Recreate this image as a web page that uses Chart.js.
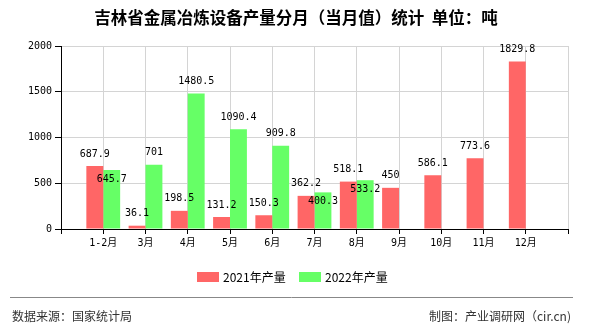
<!DOCTYPE html>
<html>
<head>
<meta charset="utf-8">
<script src="https://cdn.jsdelivr.net/npm/chart.js@4/dist/chart.umd.min.js"></script>
<style>
  html, body { margin: 0; padding: 0; background: #fff; }
  canvas { display: block; }
</style>
</head>
<body>
<canvas id="chart" width="590" height="330"></canvas>
<script>
const titleText = '吉林省金属冶炼设备产量分月（当月值）统计  单位：吨';
const months = ['1-2月', '3月', '4月', '5月', '6月', '7月', '8月', '9月', '10月', '11月', '12月'];
const output2021 = [687.9, 36.1, 198.5, 131.2, 150.3, 362.2, 518.1, 450, 586.1, 773.6, 1829.8];
const output2022 = [645.7, 701, 1480.5, 1090.4, 909.8, 400.3, 533.2, null, null, null, null];
const seriesNames = ['2021年产量', '2022年产量'];
const seriesColors = ['#ff6666', '#66ff66'];
const sourceText = '数据来源：国家统计局';
const creditText = '制图：产业调研网（cir.cn)';

const monoFont = '"DejaVu Sans Mono", "Noto Sans CJK SC", monospace';
const cjkFont = '"Noto Sans CJK SC", "Liberation Sans", sans-serif';

// blank slot on each side so the months sit on the grid lines
const axisLabels = ['', ...months, ''];
const pad = arr => [null, ...arr, null];

const ctx = document.getElementById('chart').getContext('2d');

// value labels above each bar; a 2022 label that would collide with the
// 2021 label of the same month is tucked just under the bar top instead
const valueLabels = {
    id: 'valueLabels',
    afterDatasetsDraw(chart) {
        const c = chart.ctx;
        c.save();
        c.font = '10px ' + monoFont;
        c.fillStyle = '#000';
        c.textAlign = 'center';
        c.textBaseline = 'middle';
        const redMeta = chart.getDatasetMeta(0);
        const greenMeta = chart.getDatasetMeta(1);
        const redData = chart.data.datasets[0].data;
        const greenData = chart.data.datasets[1].data;
        redMeta.data.forEach((bar, i) => {
            if (redData[i] == null) return;
            c.fillText(String(redData[i]), bar.x, bar.y - 12);
        });
        greenMeta.data.forEach((bar, i) => {
            if (greenData[i] == null) return;
            let y = bar.y - 12;
            if (redData[i] != null) {
                const redY = redMeta.data[i].y - 12;
                if (Math.abs(y - redY) < 12) y = bar.y + 9;
            }
            c.fillText(String(greenData[i]), bar.x, y);
        });
        c.restore();
    }
};

// title, legend, footer rule and captions
const decorations = {
    id: 'decorations',
    afterDraw(chart) {
        const c = chart.ctx;
        c.save();
        c.fillStyle = '#000';
        c.textAlign = 'center';
        c.textBaseline = 'middle';
        c.font = 'bold 16.5px ' + cjkFont;
        c.fillText(titleText, 296, 18);

        c.font = '12px ' + cjkFont;
        c.textAlign = 'left';
        const legendX = [197, 299];
        seriesNames.forEach((name, i) => {
            c.fillStyle = seriesColors[i];
            c.fillRect(legendX[i], 272, 22, 10);
            c.fillStyle = '#000';
            c.fillText(name, legendX[i] + 26, 277);
        });

        c.strokeStyle = '#888';
        c.lineWidth = 1;
        c.beginPath();
        c.moveTo(10, 297.5);
        c.lineTo(573, 297.5);
        c.stroke();

        c.fillStyle = '#333';
        c.font = '12px ' + cjkFont;
        c.textAlign = 'left';
        c.fillText(sourceText, 12, 316);
        c.textAlign = 'right';
        c.fillText(creditText, 571, 316);
        c.restore();
    }
};

new Chart(ctx, {
    type: 'bar',
    data: {
        labels: axisLabels,
        datasets: [
            {
                label: seriesNames[0],
                data: pad(output2021),
                backgroundColor: seriesColors[0],
                barPercentage: 1,
                categoryPercentage: 0.8
            },
            {
                label: seriesNames[1],
                data: pad(output2022),
                backgroundColor: seriesColors[1],
                barPercentage: 1,
                categoryPercentage: 0.8
            }
        ]
    },
    options: {
        responsive: false,
        animation: false,
        layout: { padding: { top: 46, right: 22, left: 0, bottom: 0 } },
        plugins: {
            legend: { display: false },
            title: { display: false },
            tooltip: { enabled: false }
        },
        scales: {
            x: {
                offset: false,
                grid: {
                    offset: false,
                    color: '#d4d4d4',
                    tickColor: '#000',
                    tickLength: 5
                },
                border: { color: '#000', width: 1 },
                ticks: {
                    color: '#000',
                    font: { family: monoFont, size: 10 },
                    maxRotation: 0,
                    autoSkip: false,
                    padding: 3
                },
                afterFit(scale) { scale.height = 101; }
            },
            y: {
                min: 0,
                max: 2000,
                grid: {
                    color: '#d4d4d4',
                    tickColor: '#000',
                    tickLength: 6
                },
                border: { color: '#000', width: 1 },
                ticks: {
                    stepSize: 500,
                    color: '#000',
                    font: { family: monoFont, size: 10 },
                    padding: 3,
                    callback: v => String(v)
                },
                afterFit(scale) { scale.width = 61; }
            }
        }
    },
    plugins: [valueLabels, decorations]
});
</script>
</body>
</html>
